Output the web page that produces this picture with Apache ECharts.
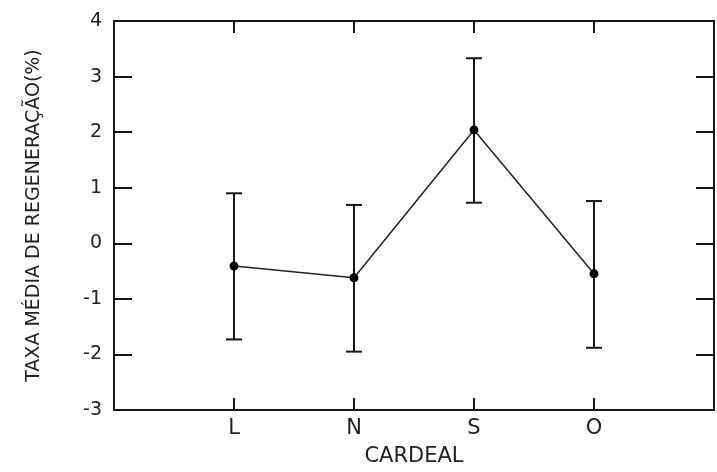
<!DOCTYPE html>
<html lang="pt">
<head>
    <meta charset="UTF-8">
    <title>Taxa média de regeneração</title>
    <script src="https://cdn.jsdelivr.net/npm/echarts@6/dist/echarts.min.js"></script>
</head>
<body style="margin:0;background:#fff;">
<div id="main" style="width: 717px;height:472px;"></div>
<script>
    // dados
    var cardeal = ['L', 'N', 'S', 'O'];
    var media = [-0.41, -0.62, 2.04, -0.55];
    var limInf = [-1.73, -1.95, 0.73, -1.88];
    var limSup = [0.90, 0.69, 3.33, 0.76];
    var yTicks = [-3, -2, -1, 0, 1, 2, 3, 4];

    var myChart = echarts.init(document.getElementById('main'));

    var pontos = [], barras = [];
    for (var i = 0; i < cardeal.length; i++) {
        pontos.push([i + 1, media[i]]);
        barras.push([i + 1, limInf[i], limSup[i]]);
    }

    var fonte = 'DejaVu Sans';
    var cor = '#151515';

    var eixoX = {
        type: 'value', min: 0, max: 5, interval: 1,
        axisLine: {show: true, onZero: false, lineStyle: {color: cor, width: 2}},
        axisTick: {show: true, inside: true, length: 12, lineStyle: {color: cor, width: 2}},
        splitLine: {show: false}
    };
    var eixoY = {
        type: 'value', min: yTicks[0], max: yTicks[yTicks.length - 1], interval: 1,
        axisLine: {show: true, onZero: false, lineStyle: {color: cor, width: 2}},
        axisTick: {show: true, inside: true, length: 18, lineStyle: {color: cor, width: 2}},
        splitLine: {show: false}
    };

    var option = {
        animation: false,
        backgroundColor: '#fff',
        textStyle: {fontFamily: fonte},
        grid: {left: 114, right: 3, top: 21, bottom: 59},
        xAxis: [
            Object.assign({}, eixoX, {
                position: 'bottom',
                name: 'CARDEAL', nameLocation: 'middle', nameGap: 36,
                nameTextStyle: {fontSize: 21, color: '#222', fontFamily: fonte},
                axisLabel: {
                    show: true, margin: 8, fontSize: 21, color: '#222',
                    formatter: function (v) { return cardeal[v - 1] || ''; }
                }
            }),
            Object.assign({}, eixoX, {position: 'top', axisLabel: {show: false}})
        ],
        yAxis: [
            Object.assign({}, eixoY, {
                position: 'left',
                name: 'TAXA MÉDIA DE REGENERAÇÃO(%)', nameLocation: 'middle', nameGap: 70,
                nameTextStyle: {fontSize: 19, color: '#222', fontFamily: fonte},
                axisLabel: {show: true, margin: 12, fontSize: 19, color: '#222'}
            }),
            Object.assign({}, eixoY, {position: 'right', axisLabel: {show: false}})
        ],
        series: [
            {
                type: 'custom',
                data: barras,
                renderItem: function (params, api) {
                    var x = api.value(0);
                    var a = api.coord([x, api.value(1)]);
                    var b = api.coord([x, api.value(2)]);
                    var w = 8;
                    var st = {stroke: cor, lineWidth: 2};
                    return {
                        type: 'group',
                        children: [
                            {type: 'line', shape: {x1: a[0], y1: a[1], x2: b[0], y2: b[1]}, style: st},
                            {type: 'line', shape: {x1: a[0] - w, y1: a[1], x2: a[0] + w, y2: a[1]}, style: st},
                            {type: 'line', shape: {x1: b[0] - w, y1: b[1], x2: b[0] + w, y2: b[1]}, style: st}
                        ]
                    };
                },
                z: 2
            },
            {
                type: 'line',
                data: pontos,
                symbol: 'circle',
                symbolSize: 9,
                lineStyle: {color: '#222', width: 1.5},
                itemStyle: {color: '#000'},
                z: 3
            }
        ]
    };

    myChart.setOption(option);
</script>
</body>
</html>
